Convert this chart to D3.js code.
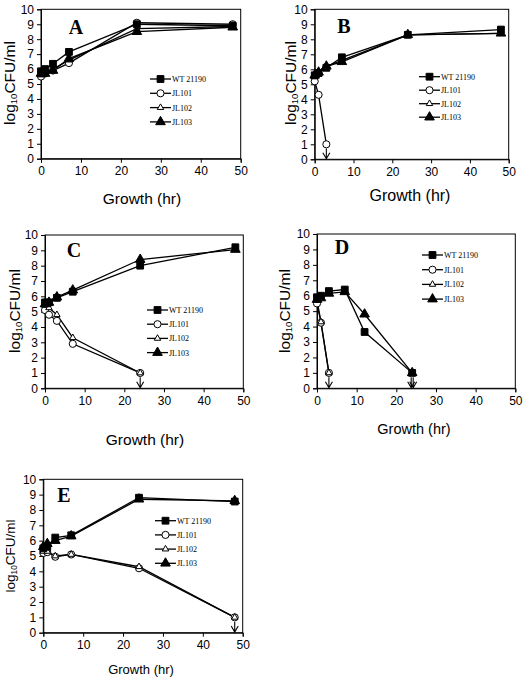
<!DOCTYPE html>
<html><head><meta charset="utf-8">
<script src="https://cdn.jsdelivr.net/npm/d3@7"></script>
<style>body{margin:0;background:#fff}</style>
</head><body>
<script>
// ---------- DATA ----------
const seriesNames = ["WT 21190", "JL101", "JL102", "JL103"];
const xTicks = [0, 10, 20, 30, 40, 50];
const yTicks = [0,1,2,3,4,5,6,7,8,9,10];

const aTime = [0, 1, 3, 7, 24, 48];
const aWT    = [5.85, 6.0, 6.35, 7.15, 9.0, 8.9];
const aJL101 = [5.5, 5.7, 5.9, 6.4, 9.1, 9.0];
const aJL102 = [5.6, 5.8, 6.0, 6.6, 8.7, 8.85];
const aJL103 = [5.7, 5.7, 5.9, 6.7, 8.5, 8.8];

const bTime = [0, 1, 3, 7, 24, 48];
const bWT    = [5.6, 5.75, 6.1, 6.8, 8.3, 8.65];
const bJL101 = [5.2, 4.3, 1.0];
const bJL102 = [5.5, 5.7, 6.2, 6.6, 8.3, 8.4];
const bJL103 = [5.6, 5.8, 6.2, 6.5, 8.3, 8.4];
const bArrows = [3];

const cTime = [0, 1, 3, 7, 24, 48];
const cWT    = [5.6, 5.6, 5.9, 6.3, 8.0, 9.2];
const cJL101 = [5.1, 4.8, 4.4, 2.9, 1.0];
const cJL102 = [5.4, 5.25, 4.8, 3.3, 1.0];
const cJL103 = [5.5, 5.6, 5.95, 6.4, 8.4, 9.05];
const cArrows = [24];

const dTime = [0, 1, 3, 7, 12, 24];
const dWT    = [5.9, 6.0, 6.3, 6.4, 3.65, 1.0];
const dJL101 = [5.5, 4.25, 1.0];
const dJL102 = [5.7, 4.3, 1.0];
const dJL103 = [5.75, 5.85, 6.15, 6.25, 4.8, 1.0];
const dArrows = [3, 24];

const eTime = [0, 1, 3, 7, 24, 48];
const eWT    = [5.5, 5.6, 6.2, 6.35, 8.8, 8.55];
const eJL101 = [5.2, 5.25, 4.95, 5.1, 4.2, 1.0];
const eJL102 = [5.3, 5.3, 5.0, 5.1, 4.3, 1.0];
const eJL103 = [5.6, 5.8, 6.0, 6.3, 8.7, 8.6];
const eArrows = [48];

// ---------- LAYOUT ----------
const panels = [
  {letter:"A", time:aTime, series:[aWT,aJL101,aJL102,aJL103], arrows:[],
   x0:41, x1:240.7, top:9.3, bottom:158.7, letterPos:[76,34],
   legend:[150,79,14.3], xTitle:[142,204,15.5], yTitle:[15,83,15.5]},
  {letter:"B", time:bTime, series:[bWT,bJL101,bJL102,bJL103], arrows:bArrows,
   x0:314.7, x1:508.7, top:9.3, bottom:159.3, letterPos:[344,33],
   legend:[419,76.7,13.5], xTitle:[410,201,16], yTitle:[296,83,15.5]},
  {letter:"C", time:cTime, series:[cWT,cJL101,cJL102,cJL103], arrows:cArrows,
   x0:45, x1:243.3, top:235, bottom:388.3, letterPos:[74,257],
   legend:[147,310,14.2], xTitle:[145,445,15.5], yTitle:[20,311,15.5]},
  {letter:"D", time:dTime, series:[dWT,dJL101,dJL102,dJL103], arrows:dArrows,
   x0:317, x1:515.3, top:234, bottom:388.3, letterPos:[342,254],
   legend:[422,255,14.7], xTitle:[414,434,14.5], yTitle:[290,311,15.5]},
  {letter:"E", time:eTime, series:[eWT,eJL101,eJL102,eJL103], arrows:eArrows,
   x0:43.3, x1:242.7, top:479.3, bottom:632.7, letterPos:[64,502],
   legend:[155,520.7,14.2], xTitle:[141,674,13], yTitle:[15,556,13.5]}
];

const svg = d3.select("body").append("svg").attr("width",524).attr("height",686)
  .style("font-family","Arial, 'Liberation Sans', sans-serif");

const markerStyles = [
  {type:d3.symbolSquare, size:46, fill:"#000"},
  {type:d3.symbolCircle, size:40, fill:"#fff"},
  {type:d3.symbolTriangle, size:18, fill:"#fff"},
  {type:d3.symbolTriangle, size:40, fill:"#000"}
];

function drawMarker(g, x, y, i){
  const m = markerStyles[i];
  g.append("path").attr("d", d3.symbol().type(m.type).size(m.size)())
    .attr("transform",`translate(${x},${y})`)
    .attr("fill", m.fill).attr("stroke","#000").attr("stroke-width",1);
}

panels.forEach(p=>{
  const x = d3.scaleLinear().domain([0,50]).range([p.x0,p.x1]);
  const y = d3.scaleLinear().domain([0,10]).range([p.bottom,p.top]);
  const g = svg.append("g");

  // frame
  g.append("rect").attr("x",p.x0).attr("y",p.top).attr("width",p.x1-p.x0).attr("height",p.bottom-p.top)
    .attr("fill","none").attr("stroke","#000").attr("stroke-width",1);

  const ax = g.append("g").attr("transform",`translate(0,${p.bottom})`)
    .call(d3.axisBottom(x).tickValues(xTicks).tickSize(4).tickPadding(4).tickFormat(d3.format("d")));
  const ay = g.append("g").attr("transform",`translate(${p.x0},0)`)
    .call(d3.axisLeft(y).tickValues(yTicks).tickSize(4).tickPadding(3).tickFormat(d3.format("d")));
  [ax,ay].forEach(a=>{
    a.select(".domain").attr("stroke","#000");
    a.selectAll("text").attr("font-size",12).attr("fill","#000").attr("font-family","Arial, 'Liberation Sans', sans-serif");
  });

  // lines (WT drawn last, on top)
  [1,2,3,0].forEach(si=>{
    const vals = p.series[si];
    g.append("path").datum(vals).attr("d", d3.line().x((d,i)=>x(p.time[i])).y(d=>y(d)))
      .attr("fill","none").attr("stroke","#000").attr("stroke-width",1.3);
  });
  [1,2,3,0].forEach(si=>{
    p.series[si].forEach((v,i)=>drawMarker(g, x(p.time[i]), y(v), si));
  });

  // arrows (below detection limit)
  p.arrows.forEach(t=>{
    const offs = (p.letter==="D" && t===24) ? [-1,1] : [0];
    offs.forEach(o=>{
      const ax0 = x(t)+o, yTop = y(0.72), yBot = y(0.04);
      g.append("path").attr("d",`M${ax0},${yTop}L${ax0},${yBot}M${ax0-3.5},${yBot-6}L${ax0},${yBot}L${ax0+3.5},${yBot-6}`)
        .attr("fill","none").attr("stroke","#000").attr("stroke-width",1.1);
    });
  });

  // letter
  g.append("text").attr("x",p.letterPos[0]).attr("y",p.letterPos[1]).attr("text-anchor","middle")
    .attr("font-family","'Liberation Serif', 'Times New Roman', serif").attr("font-weight","bold")
    .attr("font-size",20).text(p.letter);

  // legend
  const [lx, ly, lstep] = p.legend;
  seriesNames.forEach((name,i)=>{
    const yy = ly + i*lstep;
    g.append("line").attr("x1",lx).attr("x2",lx+21).attr("y1",yy).attr("y2",yy)
      .attr("stroke","#000").attr("stroke-width",1.3);
    drawMarker(g, lx+10.5, yy, i);
    g.append("text").attr("x",lx+22).attr("y",yy+3).attr("font-size",8)
      .attr("font-family","'Liberation Serif', 'Times New Roman', serif").text(name);
  });

  // axis titles
  g.append("text").attr("x",p.xTitle[0]).attr("y",p.xTitle[1]).attr("text-anchor","middle")
    .attr("font-size",p.xTitle[2]).text("Growth (hr)");
  const yt = g.append("text").attr("transform",`translate(${p.yTitle[0]},${p.yTitle[1]}) rotate(-90)`)
    .attr("text-anchor","middle").attr("font-size",p.yTitle[2]);
  yt.append("tspan").text("log");
  yt.append("tspan").attr("font-size",p.yTitle[2]*0.62).attr("dy",2).text("10");
  yt.append("tspan").attr("dy",-2).text("CFU/ml");
});
</script>
</body></html>
